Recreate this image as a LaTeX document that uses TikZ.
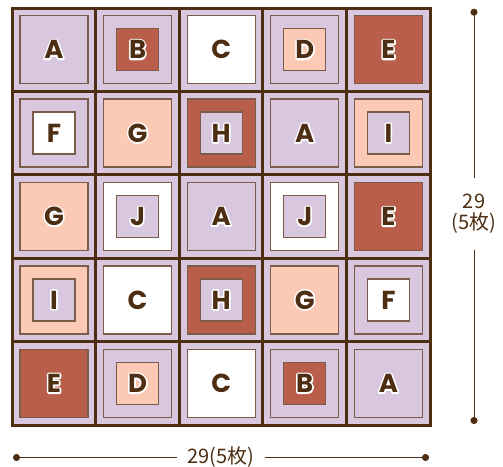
\documentclass[tikz,border=0pt]{standalone}
\usepackage{fontspec}
\setmainfont{Poppins}
\newfontfamily\jpfont{Noto Sans CJK JP}
\usetikzlibrary{arrows.meta,positioning}

\definecolor{lav}{HTML}{D9C7E0}
\definecolor{peach}{HTML}{FCCAB4}
\definecolor{brick}{HTML}{B95E4A}
\definecolor{brn}{HTML}{4E2E12}
\definecolor{sqedge}{HTML}{7A5C48}

% white rim round the block letters
\newcommand{\rimmed}[1]{\rlap{\special{pdf:literal direct q 1 Tr 1 1 1 RG 3.2 w 1 j}#1\special{pdf:literal direct Q}}#1}

\tikzset{
    midsq/.style={draw=sqedge, line width=1.3pt, minimum size=68pt, inner sep=0pt},
    smallsq/.style={draw=sqedge, line width=1.3pt, minimum size=42pt, inner sep=0pt},
    letter/.style={text=brn, font=\bfseries\fontsize{26}{26}\selectfont},
    dimtext/.style={text=brn, font=\jpfont\fontsize{20}{21}\selectfont, align=center},
    dimline/.style={draw=brn, line width=0.8pt},
    % block colours: middle square / small square
    midA/.style={fill=lav},   smallA/.style={draw=none},
    midB/.style={fill=lav},   smallB/.style={fill=brick},
    midC/.style={fill=white}, smallC/.style={draw=none},
    midD/.style={fill=lav},   smallD/.style={fill=peach},
    midE/.style={fill=brick}, smallE/.style={draw=none},
    midF/.style={fill=lav},   smallF/.style={fill=white},
    midG/.style={fill=peach}, smallG/.style={draw=none},
    midH/.style={fill=brick}, smallH/.style={fill=lav},
    midI/.style={fill=peach}, smallI/.style={fill=lav},
    midJ/.style={fill=white}, smallJ/.style={fill=lav},
}

\begin{document}
\begin{tikzpicture}[x=1pt, y=-1pt]
    \useasboundingbox (0,0) rectangle (503,466);

    % quilt top
    \fill[lav] (12,8) rectangle (430,425);
    \foreach \lab [count=\n from 0] in {A,B,C,D,E, F,G,H,A,I, G,J,A,J,E, I,C,H,G,F, E,D,C,B,A}{
        \pgfmathtruncatemacro\col{mod(\n,5)}
        \pgfmathtruncatemacro\row{div(\n,5)}
        \coordinate (c\n) at (54+\col*83.6, 49.7+\row*83.4);
        \node[midsq, mid\lab] (m\n) at (c\n) {};
        \node[smallsq, small\lab] (s\n) at (c\n) {};
        \node[letter] (t\n) at (c\n) {\rimmed{\lab}};
    }
    \foreach \k in {1,...,4}{
        \draw[brn, line width=3pt] (12+\k*83.6,8) -- (12+\k*83.6,425);
        \draw[brn, line width=3pt] (12,8+\k*83.4) -- (430,8+\k*83.4);
    }
    \draw[brn, line width=3pt] (12,8) rectangle (430,425);

    % dimensions
    \coordinate (vtop) at (474,8.7);
    \coordinate (vbot) at (474,424);
    \node[dimtext, inner ysep=16pt] (vlab) at (474,214) {29\\(5枚)};
    \draw[dimline, {Circle[length=7pt]}-] (vtop) -- (vlab.north);
    \draw[dimline, -{Circle[length=7pt]}] (vlab.south) -- (vbot);

    \coordinate (hleft) at (13,457.5);
    \coordinate (hright) at (429,457.5);
    \node[dimtext, inner xsep=10pt] (hlab) at (221,457.5) {29(5枚)};
    \draw[dimline, {Circle[length=7pt]}-] (hleft) -- (hlab.west);
    \draw[dimline, -{Circle[length=7pt]}] (hlab.east) -- (hright);
\end{tikzpicture}
\end{document}
